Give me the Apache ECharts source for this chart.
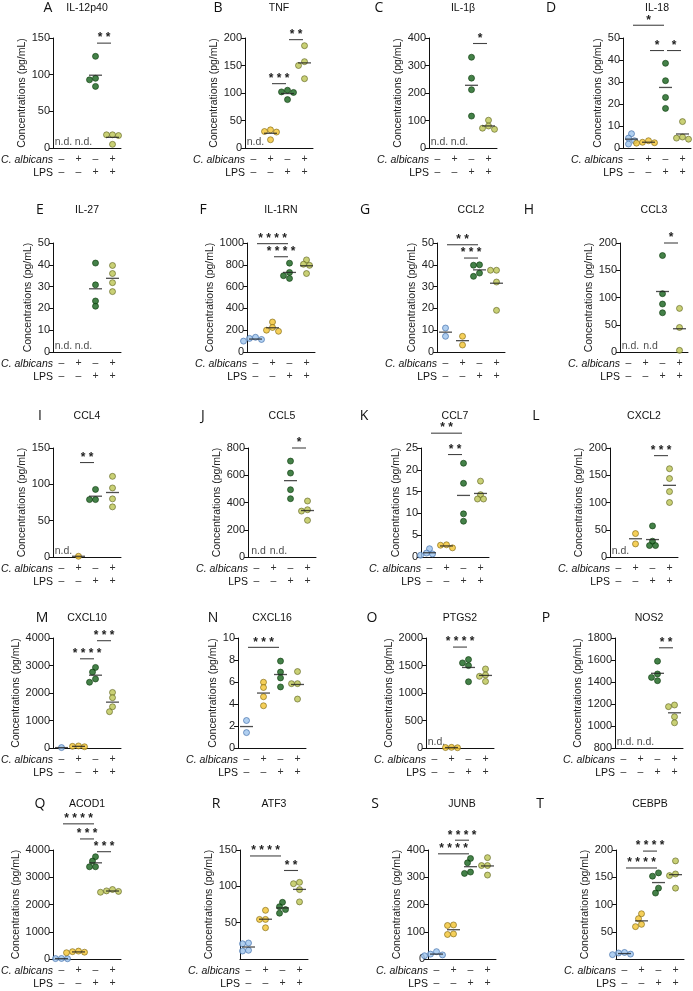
<!DOCTYPE html>
<html>
<head>
<meta charset="utf-8">
<script src="https://cdn.jsdelivr.net/npm/echarts@6/dist/echarts.min.js"></script>
<style>
html, body { margin: 0; background: #fff; }
#main { width: 693px; height: 991px; }
</style>
</head>
<body>
<div id="main"></div>
<script>
// panel labels
var panelLetters = ['A','B','C','D','E','F','G','H','I','J','K','L','M','N','O','P','Q','R','S','T'];
var panelTitles = ['IL-12p40','TNF','IL-1β','IL-18','IL-27','IL-1RN','CCL2','CCL3','CCL4','CCL5',
	'CCL7','CXCL2','CXCL10','CXCL16','PTGS2','NOS2','ACOD1','ATF3','JUNB','CEBPB'];
var xLabels = ['–\n–', '+\n–', '–\n+', '+\n+'];

// y axes
var yMin = [0,0,0,0, 0,0,0,0, 0,0,0,0, 0,0,0,800, 0,0,0,0];
var yMax = [150,200,400,50, 50,1000,50,200, 150,800,25,200, 4000,10,2000,1800, 4000,150,400,200];
var yStep = [50,50,100,10, 10,200,10,50, 50,200,5,50, 1000,2,500,200, 1000,50,100,50];
var hideZero = ['ATF3','CEBPB'];

// values per group (order: ctrl, C. albicans, LPS, C. albicans + LPS), strings = not detected
var IL12p40 = ['n.d.', 'n.d.', [125, 95, 93, 84], [18, 18, 17, 5]];
var TNF = ['n.d.', [33, 30, 29, 15], [105, 102, 101, 88], [186, 157, 150, 126]];
var IL1B = ['n.d.', 'n.d.', [330, 254, 212, 116], [101, 80, 72, 68]];
var IL18 = [[6.5, 4.5, 3.3, 1.8], [3.3, 2.6, 2.4, 2.2], [38.5, 30.6, 23, 18], [12, 5, 4.5, 4]];
var IL27 = ['n.d.', 'n.d.', [40.8, 30.8, 23.4, 21], [39.7, 36, 31.8, 27.7]];
var IL1RN = [[135, 125, 115, 100], [275, 225, 200, 190], [815, 730, 700, 675], [845, 805, 795, 720]];
var CCL2 = [[11, 7.2], [7.2, 3.2], [40, 39.8, 36.2, 34.7], [37.5, 37.5, 32.1, 19.1]];
var CCL3 = ['n.d.', 'n.d', [177, 107, 88, 72], [80, 45, 3]];
var CCL4 = ['n.d.', [1], [93, 79, 79], [111, 95, 80, 69]];
var CCL5 = ['n.d', 'n.d.', [704, 616, 494, 428], [411, 347, 337, 269]];
var CCL7 = [[1.9, 0.9, 0.7, 0.4], [2.8, 2.7, 2.1], [21.5, 16.9, 9.9, 8.2], [17.4, 14.3, 13.3, 13.3]];
var CXCL2 = ['n.d.', [43, 24], [57, 29, 21, 21], [162, 144, 120, 100]];
var CXCL10 = [[15], [75, 60, 45], [2930, 2760, 2510, 2390], [2020, 1830, 1500, 1320]];
var CXCL16 = [[2.5, 1.4], [5.98, 5.5, 4.66, 3.84], [7.9, 6.9, 6.37, 5.55], [6.95, 5.85, 5.85, 4.45]];
var PTGS2 = ['n.d.', [12, 8, 5], [1608, 1547, 1498, 1205], [1437, 1327, 1303, 1211]];
var NOS2 = ['n.d.', 'n.d.', [1589, 1473, 1442, 1412], [1191, 1176, 1084, 1029]];
var ACOD1 = [[20, 15, 10], [290, 270, 250, 230], [3754, 3594, 3385, 3385], [2550, 2500, 2480, 2450]];
var ATF3 = [[22, 21, 12, 11], [67, 54.5, 54.5, 43], [78, 72, 68, 63], [105.5, 103.6, 95.5, 78.6]];
var JUNB = [[27, 18, 15, 12], [125, 123, 92, 90], [369, 353, 319, 314], [372, 343, 343, 308]];
var CEBPB = [[12, 11, 9, 8], [83, 74, 63.6, 59.4], [158, 152, 130, 121], [180, 156, 153, 130]];

// significance brackets: [from group, to group, height, stars]
var sigIL12p40 = [[2, 3, 143, '**']];
var sigTNF = [[1, 2, 117, '***'], [2, 3, 197, '**']];
var sigIL1B = [[2, 3, 380, '*']];
var sigIL18 = [[0, 2, 55.8, '*'], [1, 2, 44.3, '*'], [2, 3, 44.3, '*']];
var sigIL27 = [];
var sigIL1RN = [[0, 2, 994, '****'], [1, 2, 874, '****']];
var sigCCL2 = [[0, 2, 49.2, '**'], [1, 2, 43.1, '***']];
var sigCCL3 = [[2, 3, 200, '*']];
var sigCCL4 = [[1, 2, 130, '**']];
var sigCCL5 = [[2, 3, 800, '*']];
var sigCCL7 = [[0, 2, 28.4, '**'], [1, 2, 23.5, '**']];
var sigCXCL2 = [[2, 3, 186, '***']];
var sigCXCL10 = [[1, 2, 3244, '****'], [2, 3, 3902, '***']];
var sigCXCL16 = [[0, 2, 9.15, '***']];
var sigPTGS2 = [[1, 2, 1835, '****']];
var sigNOS2 = [[2, 3, 1711, '**']];
var sigACOD1 = [[0, 2, 4960, '****'], [1, 2, 4406, '***'], [2, 3, 3938, '***']];
var sigATF3 = [[0, 2, 141.8, '****'], [2, 3, 121.8, '**']];
var sigJUNB = [[0, 2, 386, '****'], [1, 2, 436, '****']];
var sigCEBPB = [[0, 2, 167, '****'], [1, 2, 198, '****']];

var panelValues = [IL12p40, TNF, IL1B, IL18, IL27, IL1RN, CCL2, CCL3, CCL4, CCL5,
	CCL7, CXCL2, CXCL10, CXCL16, PTGS2, NOS2, ACOD1, ATF3, JUNB, CEBPB];
var panelSigs = [sigIL12p40, sigTNF, sigIL1B, sigIL18, sigIL27, sigIL1RN, sigCCL2, sigCCL3, sigCCL4, sigCCL5,
	sigCCL7, sigCXCL2, sigCXCL10, sigCXCL16, sigPTGS2, sigNOS2, sigACOD1, sigATF3, sigJUNB, sigCEBPB];

// layout
var gridLeft = [53,245,429,623, 53,247,437,620, 53,248,421,610, 53,238,426,615, 53,240,428,616];
var rowTop = [38, 243, 448, 638, 850];
var rowHeight = [110, 109, 109, 110, 109];
var rowTitleY = [8, 210, 416, 618, 804];
var letterX = [48,218,379,551, 40,203,365,529, 40,203,364,536, 42,213,372,546, 40,216,375,540];
var gridW = 68;
var fills = ['#9cc3ec', '#f2c330', '#15611a', '#bcc452'];
var edges = ['#3a68a6', '#7d6510', '#0b3a0b', '#5d6220'];
var FONT = 'Liberation Sans, Arial, sans-serif';

// simple beeswarm: put each point at the first free horizontal slot
function swarm(vals, ppu) {
	var idx = vals.map(function(v, k) { return k; }).sort(function(a, b) { return vals[b] - vals[a]; });
	var cands = [0, -3, 3, -6, 6, -9, 9, -12, 12];
	var placed = [], offs = [];
	idx.forEach(function(k) {
		var y = vals[k] * ppu;
		for (var c = 0; c < cands.length; c++) {
			var ok = placed.every(function(p) {
				var dx = p[0] - cands[c], dy = p[1] - y;
				return dx * dx + dy * dy >= 27;
			});
			if (ok) break;
		}
		if (c === cands.length) c = 0;
		offs[k] = cands[c];
		placed.push([cands[c], y]);
	});
	return offs;
}

var grids = [], xAxes = [], yAxes = [], series = [], graphics = [];

panelValues.forEach(function(vals, i) {
	var r = Math.floor(i / 4);
	var ppu = rowHeight[r] / (yMax[i] - yMin[i]);
	grids.push({ left: gridLeft[i], top: rowTop[r], width: gridW, height: rowHeight[r], outerBoundsMode: 'none' });
	xAxes.push({
		type: 'category', gridIndex: i, data: xLabels,
		axisLine: { lineStyle: { color: '#111', width: 1 } },
		axisTick: { alignWithLabel: true, length: 4, lineStyle: { color: '#111' } },
		axisLabel: { interval: 0, fontSize: 10.5, color: '#333', lineHeight: 13, margin: 5, fontFamily: FONT },
		splitLine: { show: false }
	});
	var digits = String(yMax[i]).length;
	yAxes.push({
		type: 'value', gridIndex: i, min: yMin[i], max: yMax[i], interval: yStep[i],
		name: 'Concentrations (pg/mL)', nameLocation: 'middle', nameGap: 3 + digits * 6.1,
		nameTextStyle: { fontSize: 10.5, color: '#222', fontFamily: FONT },
		axisLine: { show: true, lineStyle: { color: '#111', width: 1 } },
		axisTick: { show: true, length: 4, lineStyle: { color: '#111' } },
		axisLabel: { fontSize: 11, color: '#222', margin: 3, fontFamily: FONT,
			formatter: function(v) { return String(v); },
			showMinLabel: hideZero.indexOf(panelTitles[i]) < 0 },
		splitLine: { show: false }
	});

	var pts = [], means = [], nds = [];
	vals.forEach(function(g, gi) {
		if (typeof g === 'string') {
			nds.push({ value: [gi, yMin[i]], nd: g, label: { offset: [2 + gi * 3, 0] } });
			return;
		}
		var offs = swarm(g, ppu);
		g.forEach(function(v, k) {
			pts.push({ value: [gi, v], symbolOffset: [offs[k], 0],
				itemStyle: { color: fills[gi], borderColor: edges[gi], borderWidth: 0.8 } });
		});
		means.push([gi, g.reduce(function(a, b) { return a + b; }, 0) / g.length]);
	});

	series.push({
		type: 'scatter', xAxisIndex: i, yAxisIndex: i, symbolSize: 6, z: 3, data: pts, clip: false
	});
	series.push({
		type: 'scatter', xAxisIndex: i, yAxisIndex: i, symbol: 'rect', symbolSize: [13, 1.3], z: 4,
		itemStyle: { color: '#222' }, data: means, clip: false
	});
	if (nds.length) {
		series.push({
			type: 'scatter', xAxisIndex: i, yAxisIndex: i, symbolSize: 1, itemStyle: { color: 'rgba(0,0,0,0)' },
			data: nds, clip: false,
			label: { show: true, position: 'top', distance: 0, fontSize: 10.5, color: '#222', fontFamily: FONT,
				formatter: function(p) { return p.data.nd; } }
		});
	}
	var sigs = panelSigs[i];
	if (sigs.length) {
		series.push({
			type: 'custom', xAxisIndex: i, yAxisIndex: i, z: 5,
			data: sigs.map(function(s) { return [s[0], s[1], s[2]]; }),
			encode: { x: [0, 1], y: 2 },
			renderItem: function(params, api) {
				var s = sigs[params.dataIndex];
				var a = api.coord([s[0], s[2]]), b = api.coord([s[1], s[2]]);
				var x1 = a[0] + 1.5, x2 = b[0] - 1.5, y = a[1];
				return { type: 'group', children: [
					{ type: 'line', shape: { x1: x1, y1: y, x2: x2, y2: y }, style: { stroke: '#444', lineWidth: 1.1 } },
					{ type: 'text', x: (x1 + x2) / 2, y: y + 1, style: {
						text: s[3].split('').join(' '), fill: '#222', font: 'bold 12px ' + FONT,
						textAlign: 'center', textVerticalAlign: 'bottom', align: 'center', verticalAlign: 'bottom' } }
				] };
			}
		});
	}

	var bottom = rowTop[r] + rowHeight[r];
	graphics.push({ type: 'text', x: letterX[i], y: rowTitleY[r], style: {
		text: panelLetters[i], font: '14px Open Sans', fill: '#111',
		textAlign: 'center', textVerticalAlign: 'middle', align: 'center', verticalAlign: 'middle' } });
	graphics.push({ type: 'text', x: gridLeft[i] + gridW / 2, y: rowTitleY[r], style: {
		text: panelTitles[i], font: '10.5px ' + FONT, fill: '#111',
		textAlign: 'center', textVerticalAlign: 'middle', align: 'center', verticalAlign: 'middle' } });
	graphics.push({ type: 'text', x: gridLeft[i], y: bottom + 12, style: {
		text: 'C. albicans', font: 'italic 10.5px ' + FONT, fill: '#111',
		textAlign: 'right', textVerticalAlign: 'middle', align: 'right', verticalAlign: 'middle' } });
	graphics.push({ type: 'text', x: gridLeft[i], y: bottom + 25, style: {
		text: 'LPS', font: '10.5px ' + FONT, fill: '#111',
		textAlign: 'right', textVerticalAlign: 'middle', align: 'right', verticalAlign: 'middle' } });
});

var myChart = echarts.init(document.getElementById('main'));
myChart.setOption({
	backgroundColor: '#fff',
	animation: false,
	textStyle: { fontFamily: FONT },
	grid: grids,
	xAxis: xAxes,
	yAxis: yAxes,
	series: series,
	graphic: { elements: graphics }
});
</script>
</body>
</html>
